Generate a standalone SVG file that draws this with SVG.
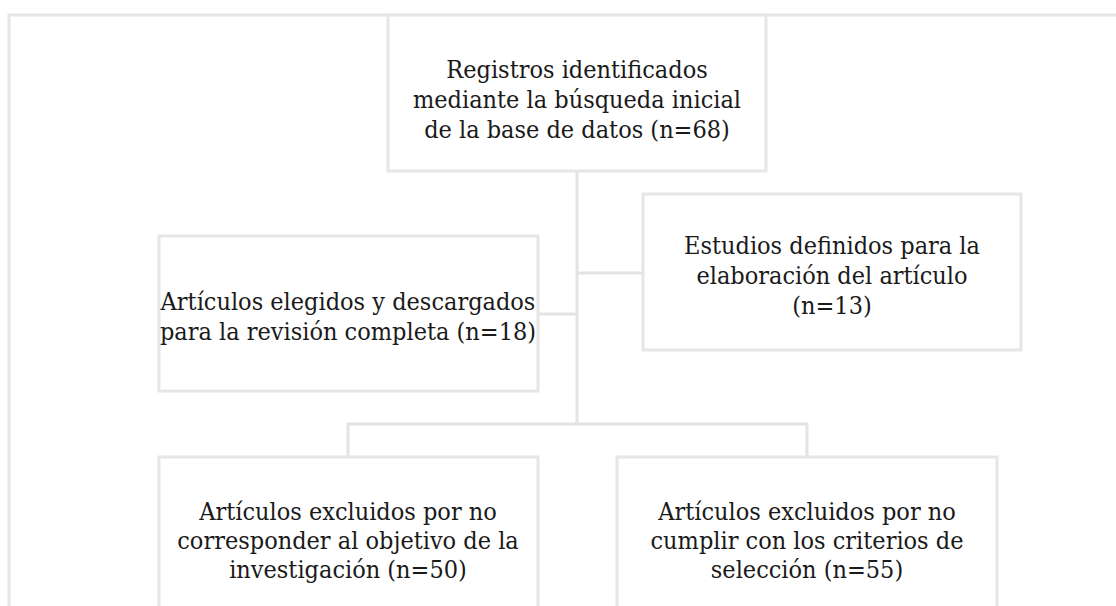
<svg xmlns="http://www.w3.org/2000/svg" width="1116" height="606" viewBox="0 0 1116 606">
<style>
.frame{fill:none;stroke:#e6e6e6;stroke-width:3}
.box{fill:#ffffff;stroke:#e6e6e6;stroke-width:3}
.conn{fill:none;stroke:#e3e3e3;stroke-width:3}
text{font-family:"DejaVu Serif Condensed","DejaVu Serif","Liberation Serif",serif;font-stretch:condensed;font-size:25px;fill:#1a1a1a;text-anchor:middle}
</style>
<rect width="1116" height="606" fill="#ffffff"/>
<path class="frame" d="M9,620 V15 H1130"/>
<g id="connectors">
<path class="conn" d="M577,171 V424"/>
<path class="conn" d="M577,273 H643"/>
<path class="conn" d="M538,314 H577"/>
<path class="conn" d="M348,457 V424 H807 V457"/>
</g>
<g id="n1">
<rect class="box" x="388" y="15" width="378" height="156"/>
<text x="577" y="78">Registros identificados</text>
<text x="577" y="108">mediante la búsqueda inicial</text>
<text x="577" y="138">de la base de datos (n=68)</text>
</g>
<g id="n2">
<rect class="box" x="643" y="194" width="378" height="156"/>
<text x="832" y="254">Estudios definidos para la</text>
<text x="832" y="284">elaboración del artículo</text>
<text x="832" y="314">(n=13)</text>
</g>
<g id="n3">
<rect class="box" x="159" y="236" width="379" height="155"/>
<text x="348" y="310">Artículos elegidos y descargados</text>
<text x="348" y="340">para la revisión completa (n=18)</text>
</g>
<g id="n4">
<rect class="box" x="159" y="457" width="379" height="170"/>
<text x="348" y="520">Artículos excluidos por no</text>
<text x="348" y="549">corresponder al objetivo de la</text>
<text x="348" y="578">investigación (n=50)</text>
</g>
<g id="n5">
<rect class="box" x="617" y="457" width="380" height="170"/>
<text x="807" y="520">Artículos excluidos por no</text>
<text x="807" y="549">cumplir con los criterios de</text>
<text x="807" y="578">selección (n=55)</text>
</g>
</svg>
